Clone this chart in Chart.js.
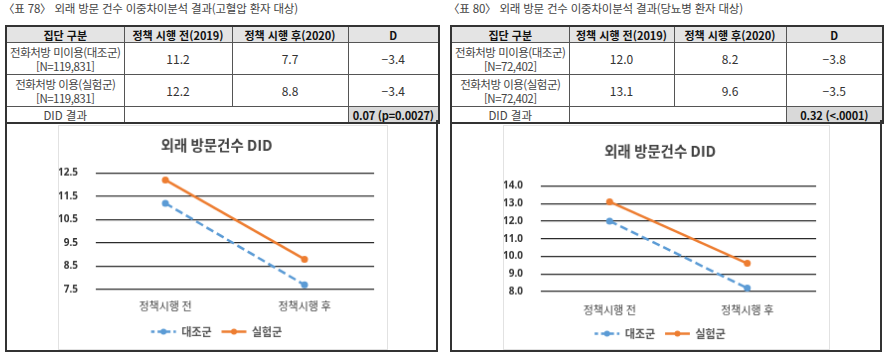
<!DOCTYPE html>
<html lang="ko">
<head>
<meta charset="utf-8">
<script src="https://cdn.jsdelivr.net/npm/chart.js@4.4.1/dist/chart.umd.min.js"></script>
<style>
  body { margin: 0; width: 889px; height: 358px; background: #fff; position: relative; overflow: hidden;
         font-family: "Noto Sans CJK KR", "Noto Sans", sans-serif; color: #333; }
  .caption { position: absolute; top: 0; font-size: 11.5px; color: #444; letter-spacing: -0.2px; }
  table { position: absolute; top: 25px; border-collapse: collapse; border: 2px solid #333; table-layout: fixed; }
  td, th { border: 1px solid #555; text-align: center; font-size: 12px; padding: 0; line-height: 14px;
           white-space: nowrap; overflow: hidden; }
  th { background: #e4e4e4; font-weight: bold; color: #111; height: 15px; font-size: 11px; }
  td.grp { color: #444; height: 31px; font-size: 11.5px; letter-spacing: -0.5px; }
  td.did { height: 15px; color: #444; font-size: 11.5px; }
  td.res { background: #d9d9d9; font-weight: bold; color: #111; font-size: 11px; letter-spacing: -0.2px; }
  .box { position: absolute; top: 120px; height: 230px; border: 2px solid #333; border-top: none; }
  canvas { position: absolute; top: 125px; border: 1px solid #e2e2e2; box-sizing: border-box; }
</style>
</head>
<body>
<div class="caption" style="left:3px">〈표 78〉 외래 방문 건수 이중차이분석 결과(고혈압 환자 대상)</div>
<table style="left:5px; width:433px">
  <colgroup><col style="width:118px"><col style="width:108px"><col style="width:116px"><col style="width:91px"></colgroup>
  <tr><th>집단 구분</th><th>정책 시행 전(2019)</th><th>정책 시행 후(2020)</th><th>D</th></tr>
  <tr><td class="grp">전화처방 미이용(대조군)<br>[N=119,831]</td><td>11.2</td><td>7.7</td><td>−3.4</td></tr>
  <tr><td class="grp">전화처방 이용(실험군)<br>[N=119,831]</td><td>12.2</td><td>8.8</td><td>−3.4</td></tr>
  <tr><td class="did">DID 결과</td><td colspan="2"></td><td class="res">0.07 (p=0.0027)</td></tr>
</table>
<div class="box" style="left:5px; width:429px"></div>
<canvas id="chartA" width="330" height="225" style="left:58px"></canvas>

<div class="caption" style="left:448px">〈표 80〉 외래 방문 건수 이중차이분석 결과(당뇨병 환자 대상)</div>
<table style="left:450px; width:432px">
  <colgroup><col style="width:118px"><col style="width:105px"><col style="width:112px"><col style="width:97px"></colgroup>
  <tr><th>집단 구분</th><th>정책 시행 전(2019)</th><th>정책 시행 후(2020)</th><th>D</th></tr>
  <tr><td class="grp">전화처방 미이용(대조군)<br>[N=72,402]</td><td>12.0</td><td>8.2</td><td>−3.8</td></tr>
  <tr><td class="grp">전화처방 이용(실험군)<br>[N=72,402]</td><td>13.1</td><td>9.6</td><td>−3.5</td></tr>
  <tr><td class="did">DID 결과</td><td colspan="2"></td><td class="res">0.32 (&lt;.0001)</td></tr>
</table>
<div class="box" style="left:450px; width:428px"></div>
<canvas id="chartB" width="327" height="225" style="left:503px"></canvas>

<script>
// 데이터
const periods = ["정책시행 전", "정책시행 후"];
const seriesNames = ["대조군", "실험군"];
const htnControl = [11.2, 7.7];
const htnTreat = [12.2, 8.8];
const htnTicks = [7.5, 8.5, 9.5, 10.5, 11.5, 12.5];
const dmControl = [12.0, 8.2];
const dmTreat = [13.1, 9.6];
const dmTicks = [8.0, 9.0, 10.0, 11.0, 12.0, 13.0, 14.0];

const BLUE = "#5b9bd5";
const ORANGE = "#ed7d31";
const LEGEND_W = 25;
const LEGEND_DASH = [5, 3];

// 범례 선 가운데에 점 찍기
const legendDots = {
  id: "legendDots",
  afterDraw(chart) {
    const legend = chart.legend;
    if (!legend || !legend.legendHitBoxes) return;
    const ctx = chart.ctx;
    legend.legendHitBoxes.forEach((box, i) => {
      const ds = chart.data.datasets[i];
      ctx.save();
      ctx.fillStyle = ds.borderColor;
      ctx.beginPath();
      ctx.arc(box.left + LEGEND_W / 2, box.top + box.height / 2, 3, 0, Math.PI * 2);
      ctx.fill();
      ctx.restore();
    });
  }
};

// 범례 점선: 높이 0짜리 사각형이 왕복으로 그려지므로 대칭이 되게 오프셋을 맞춤
function legendLabels(chart) {
  const period = LEGEND_DASH[0] + LEGEND_DASH[1];
  const offset = (period - ((LEGEND_W - LEGEND_DASH[0] / 2) % period)) % period;
  return Chart.defaults.plugins.legend.labels.generateLabels(chart).map((item) => {
    if (item.lineDash && item.lineDash.length) {
      item.lineDash = LEGEND_DASH;
      item.lineDashOffset = offset;
    }
    return item;
  });
}

function makeChart(id, control, treat, ticks, lay) {
  new Chart(document.getElementById(id), {
    type: "line",
    data: {
      labels: periods,
      datasets: [
        { label: seriesNames[0], data: control, borderColor: BLUE, backgroundColor: BLUE,
          borderWidth: 2.5, borderDash: [8, 4], pointRadius: 3.5, pointBackgroundColor: BLUE, pointBorderWidth: 0 },
        { label: seriesNames[1], data: treat, borderColor: ORANGE, backgroundColor: ORANGE,
          borderWidth: 2.5, pointRadius: 3.5, pointBackgroundColor: ORANGE, pointBorderWidth: 0 }
      ]
    },
    options: {
      responsive: false,
      animation: false,
      devicePixelRatio: 1,
      layout: { padding: { top: lay.top, bottom: lay.bottom, left: 0, right: 13 } },
      plugins: {
        tooltip: { enabled: false },
        title: {
          display: true, text: "외래 방문건수 DID", color: "#404040",
          font: { family: "Noto Sans CJK KR", size: 14.5, weight: "bold" },
          padding: { top: 0, bottom: lay.titleGap }
        },
        legend: {
          position: "bottom",
          labels: {
            boxWidth: LEGEND_W, boxHeight: 0, padding: 10, color: "#555",
            font: { family: "Noto Sans CJK KR", size: 11, weight: "bold" },
            generateLabels: legendLabels
          }
        }
      },
      scales: {
        x: {
          offset: true,
          grid: { display: false, drawTicks: false },
          border: { display: false },
          afterFit: (s) => { s.height = lay.xHeight; },
          ticks: { color: "#444", padding: lay.xPad, autoSkip: false, maxRotation: 0,
                   font: { family: "Noto Sans CJK KR", size: 11 } }
        },
        y: {
          min: ticks[0], max: ticks[ticks.length - 1],
          afterBuildTicks: (s) => { s.ticks = ticks.map((v) => ({ value: v })); },
          afterFit: (s) => { s.width = 37; },
          grid: { color: "#2b2b2b", lineWidth: 1.3, drawTicks: false },
          border: { display: false },
          ticks: {
            color: "#333", padding: 18, autoSkip: false,
            font: { family: "Noto Sans", size: 10, weight: "bold" },
            callback: (v) => Number(v).toFixed(1)
          }
        }
      }
    },
    plugins: [legendDots]
  });
}

makeChart("chartA", htnControl, htnTreat, htnTicks, { top: 11, titleGap: 19, bottom: 2, xPad: 10, xHeight: 27 });
makeChart("chartB", dmControl, dmTreat, dmTicks, { top: 17, titleGap: 26, bottom: 0, xPad: 12, xHeight: 27 });
</script>
</body>
</html>
